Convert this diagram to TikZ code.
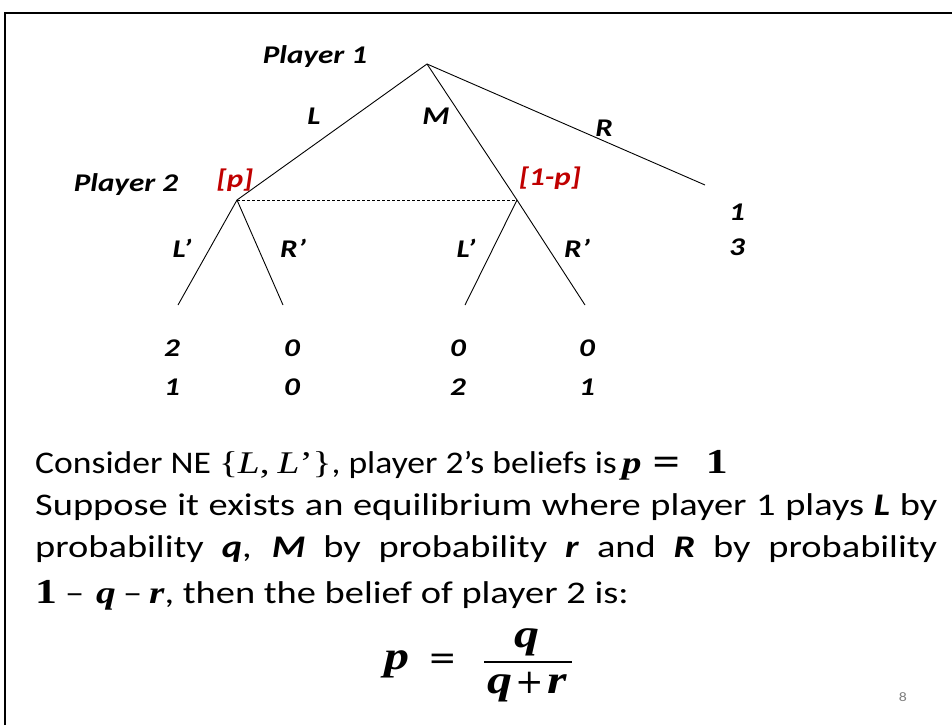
\documentclass[tikz,border=0pt]{standalone}
\usepackage{fontspec}
\setmainfont[FakeStretch=1.22]{Carlito}
\newfontfamily\narrowfont[FakeStretch=1.13]{Carlito}
\newfontfamily\cmb[FakeStretch=1.25]{Liberation Serif}
\newfontfamily\dvs{DejaVu Serif}
\definecolor{dred}{RGB}{192,0,0}
\newcommand\mv[1]{{\cmb\bfseries\itshape #1}}
\newcommand\bi[1]{\textbf{\textit{#1}}}
\newcommand\deq{{\dvs =}}
\newcommand\dplus{{\dvs +}}
\newcommand\bone{{\fontsize{35}{40}\selectfont\cmb\bfseries 1}}
\begin{document}
\begin{tikzpicture}[x=1pt,y=-1pt,
  lbl/.style={font=\fontsize{25.5}{30}\selectfont\bfseries\itshape, inner sep=0pt},
  redlbl/.style={lbl, text=dred},
  branch/.style={line width=0.9pt},
  body/.style={font=\fontsize{31.5}{38}\selectfont, anchor=base west, inner sep=0pt},
  formula/.style={font=\fontsize{40}{44}\selectfont, anchor=base, inner sep=0pt}]
\useasboundingbox (0,0) rectangle (952,725);
\fill[white] (0,0) rectangle (952,725);
% frame
\draw[line width=2.5pt] (5,725) -- (5,13) -- (952,13);
% tree nodes
\coordinate (root) at (427,64);
\coordinate (nL) at (237,200);
\coordinate (nM) at (517,200);
\coordinate (tR) at (705,185);
\coordinate (a) at (178,305);
\coordinate (b) at (283,305);
\coordinate (c) at (465,305);
\coordinate (d) at (585,305);
\draw[branch] (root) -- (nL);
\draw[branch] (root) -- (nM);
\draw[branch] (root) -- (tR);
\draw[branch] (nL) -- (a);
\draw[branch] (nL) -- (b);
\draw[branch] (nM) -- (c);
\draw[branch] (nM) -- (d);
\draw[line width=0.9pt, dash pattern=on 3pt off 2pt] (nL) -- (nM);
% labels
\node[lbl] (p1) at (315,57) {Player 1};
\node[lbl] (lL) at (314,116) {L};
\node[lbl] (lM) at (436,116) {M};
\node[lbl] (lR) at (604,128) {R};
\node[lbl] (p2) at (126,185) {Player 2};
\node[redlbl] (bp) at (235,180) {[p]};
\node[redlbl] (b1p) at (550,178) {[1-p]};
\node[lbl] (l1) at (182,248) {L’};
\node[lbl] (r1) at (293,248) {R’};
\node[lbl] (l2) at (466,248) {L’};
\node[lbl] (r2) at (577,248) {R’};
\node[lbl] (e1) at (737,212) {1};
\node[lbl] (e2) at (737,247) {3};
\node[lbl] (a1) at (172,348) {2};
\node[lbl] (a2) at (172,387) {1};
\node[lbl] (b1) at (292,348) {0};
\node[lbl] (b2) at (292,387) {0};
\node[lbl] (c1) at (458,348) {0};
\node[lbl] (c2) at (458,387) {2};
\node[lbl] (d1) at (587,348) {0};
\node[lbl] (d2) at (587,387) {1};
% body text
\node[body] (t1) at (35,473) {\narrowfont Consider NE {\cmb\{\textit{L},\hspace{8pt}\textit{L}’\}}, player 2’s beliefs is\hspace{5pt}\mv{p}\hspace{10pt}{\fontsize{36}{40}\selectfont\deq}\hspace{24pt}\bone};
\node[body] (t2) at (35,515) {\makebox[902pt][s]{Suppose it exists an equilibrium where player 1 plays \bi{L} by}};
\node[body] (t3) at (35,557) {\makebox[902pt][s]{probability \bi{q}, \bi{M} by probability \bi{r} and \bi{R} by probability}};
\node[body] (t4) at (35,603) {\makebox[30pt][l]{\bone}\makebox[31pt][l]{–}\makebox[27pt][l]{\mv{q}}\makebox[26pt][l]{–}\mv{r},\ then the belief of player 2 is:};
% formula
\node[formula] (fp) at (397,669) {\mv{p}};
\node[formula, font=\fontsize{34}{40}\selectfont] (feq) at (443,669) {\deq};
\node[formula] (fq) at (527,647) {\mv{q}};
\draw[line width=2.8pt] (484,662) -- (572,662);
\node[formula] (fqr) at (527,693) {\mv{q}\hspace{3pt}{\fontsize{34}{40}\selectfont\dplus}\hspace{3pt}\mv{r}};
\node[font=\fontsize{13}{15}\selectfont, text=gray, inner sep=0pt] (pg) at (903,697) {8};
\end{tikzpicture}
\end{document}
